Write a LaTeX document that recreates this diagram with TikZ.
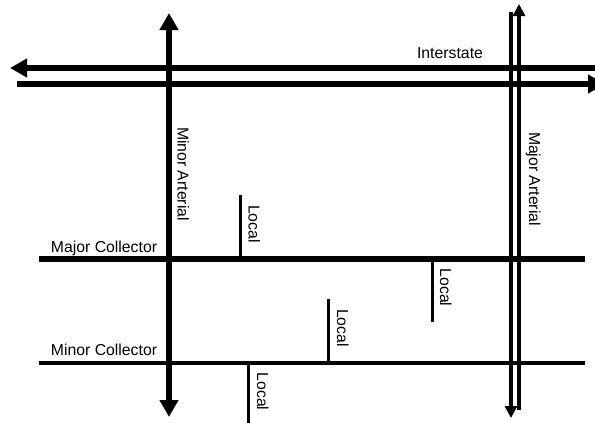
\documentclass[tikz,border=0pt]{standalone}
\usepackage{fontspec}
\setmainfont{Liberation Sans}
\usetikzlibrary{arrows.meta}
\tikzset{
  road/.style={draw=black,line width=#1,line cap=butt},
  bighead/.style={-{Triangle[length=17pt,width=18pt]}},
  smallhead/.style={-{Triangle[length=12pt,width=12pt]}},
  lbl/.style={font=\fontsize{15.8}{18}\selectfont,inner sep=0pt,text=black,anchor=base},
  vlbl/.style={lbl,rotate=-90}
}
\begin{document}
\begin{tikzpicture}[x=1pt,y=-1pt]
\useasboundingbox (0,0) rectangle (595,423);
\clip (0,0) rectangle (595,423);
% named end points
\coordinate (intA) at (595,68); \coordinate (intAtip) at (10,68);
\coordinate (intB) at (17,84); \coordinate (intBtip) at (605,84);
\coordinate (minTop) at (169,13); \coordinate (minBot) at (169,417);
\coordinate (majLs) at (511,12); \coordinate (majLe) at (511,418);
\coordinate (majRs) at (519,410); \coordinate (majRe) at (519,4);
\coordinate (mcA) at (39,259); \coordinate (mcB) at (585,259);
\coordinate (micA) at (39,363); \coordinate (micB) at (585,363);
\coordinate (l1a) at (240,195); \coordinate (l1b) at (240,259);
\coordinate (l2a) at (432,259); \coordinate (l2b) at (432,322);
\coordinate (l3a) at (328,299); \coordinate (l3b) at (328,363);
\coordinate (l4a) at (248,363); \coordinate (l4b) at (248,423);
% roads
\draw[road=6pt,bighead] (intA) -- (intAtip);
\draw[road=6pt,bighead] (intB) -- (intBtip);
\draw[road=6pt,{Triangle[length=17pt,width=18pt]}-{Triangle[length=17pt,width=18pt]}] (minTop) -- (minBot);
\draw[road=4pt,smallhead] (majLs) -- (majLe);
\draw[road=4pt,smallhead] (majRs) -- (majRe);
\draw[road=6pt] (mcA) -- (mcB);
\draw[road=4pt] (micA) -- (micB);
\draw[road=3pt] (l1a) -- (l1b);
\draw[road=3pt] (l2a) -- (l2b);
\draw[road=3pt] (l3a) -- (l3b);
\draw[road=3pt] (l4a) -- (l4b);
% labels
\node[lbl] (tInter) at (450,58) {Interstate};
\node[lbl] (tMajC) at (104,252) {Major Collector};
\node[lbl] (tMinC) at (104,355) {Minor Collector};
\node[vlbl] (tMinA) at (177.5,174) {Minor Arterial};
\node[vlbl] (tMajA) at (529,179) {Major Arterial};
\node[vlbl] (tL1) at (248.5,224) {Local};
\node[vlbl] (tL2) at (440,287.5) {Local};
\node[vlbl] (tL3) at (337,328) {Local};
\node[vlbl] (tL4) at (257,391.5) {Local};
\end{tikzpicture}
\end{document}
